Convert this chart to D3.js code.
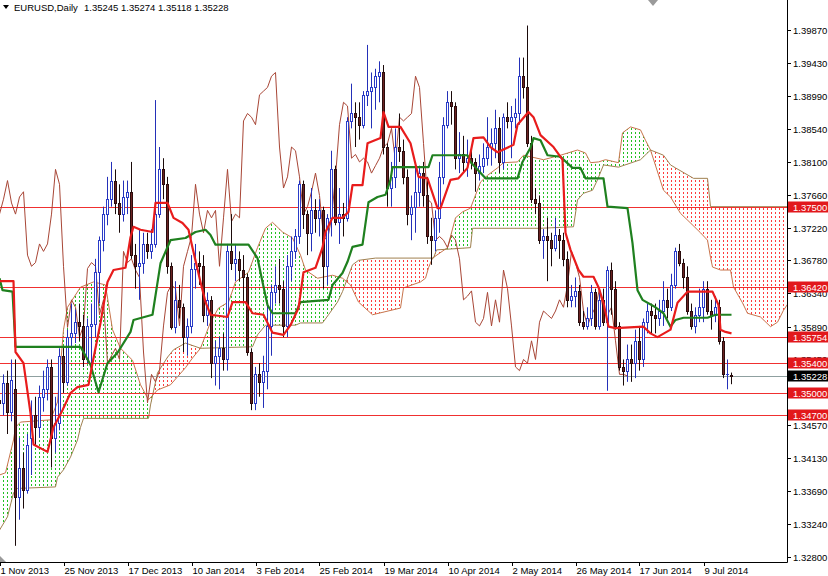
<!DOCTYPE html>
<html><head><meta charset="utf-8">
<script src="https://cdn.jsdelivr.net/npm/d3@7"></script>
<style>
body{margin:0;background:#fff}
svg{display:block}
text{font-family:"Liberation Sans",Arial,sans-serif}
</style>
</head><body><svg id="c" width="828" height="576"></svg>
<script>
// ---------- DATA ----------
const symbolTitle = "EURUSD,Daily";
const titleValues = "1.35245 1.35274 1.35118 1.35228";
const xTickIdx = [0,16,32,48,64,80,96,112,128,144,160,176];
const xTickLabels = ["1 Nov 2013","25 Nov 2013","17 Dec 2013","10 Jan 2014","3 Feb 2014","25 Feb 2014","19 Mar 2014","10 Apr 2014","2 May 2014","26 May 2014","17 Jun 2014","9 Jul 2014"];
const yTicks = [1.39870,1.39430,1.38990,1.38540,1.38100,1.37660,1.37220,1.36780,1.36340,1.35890,1.35450,1.35010,1.34570,1.34130,1.33690,1.33240,1.32800];
const levels = [1.37500,1.36420,1.35754,1.35400,1.35000,1.34700];
const bid = 1.35228;

const open = [1.3490,1.3487,1.3513,1.3475,1.3505,1.3360,1.3400,1.3370,1.3440,1.3470,1.3455,1.3495,1.3505,1.3535,1.3440,1.3460,1.3550,1.3515,1.3575,1.3580,
1.3595,1.3590,1.3545,1.3590,1.3592,1.3663,1.3705,1.3740,1.3760,1.3785,1.3755,1.3740,1.3763,1.3770,1.3685,1.3670,1.3675,1.3700,1.3690,1.3700,
1.3740,1.3800,1.3780,1.3670,1.3588,1.3625,1.3615,1.3575,1.3590,1.3667,1.3675,1.3670,1.3605,1.3625,1.3540,1.3550,1.3560,1.3545,1.3690,1.3675,
1.3680,1.3665,1.3655,1.3555,1.3487,1.3525,1.3515,1.3530,1.3590,1.3635,1.3645,1.3640,1.3590,1.3670,1.3690,1.3710,1.3780,1.3740,1.3715,1.3745,
1.3735,1.3745,1.3670,1.3735,1.3800,1.3730,1.3740,1.3735,1.3865,1.3875,1.3870,1.3860,1.3900,1.3905,1.3910,1.3925,1.3930,1.3830,1.3775,1.3790,
1.3830,1.3825,1.3790,1.3740,1.3750,1.3770,1.3795,1.3765,1.3710,1.3705,1.3735,1.3790,1.3860,1.3890,1.3885,1.3815,1.3820,1.3810,1.3815,1.3810,
1.3795,1.3805,1.3815,1.3830,1.3835,1.3855,1.3810,1.3870,1.3865,1.3870,1.3875,1.3925,1.3910,1.3835,1.3760,1.3755,1.3705,1.3710,1.3705,1.3695,
1.3712,1.3705,1.3680,1.3625,1.3630,1.3637,1.3595,1.3590,1.3600,1.3635,1.3590,1.3625,1.3595,1.3665,1.3640,1.3590,1.3535,1.3530,1.3545,1.3540,
1.3570,1.3545,1.3595,1.3610,1.3605,1.3600,1.3610,1.3625,1.3615,1.3645,1.3690,1.3675,1.3655,1.3610,1.3590,1.3605,1.3615,1.3640,1.3610,1.3605,
1.3615,1.3570,1.3525,1.35245];
const high = [1.3505,1.3525,1.3530,1.3545,1.3545,1.3440,1.3420,1.3445,1.3490,1.3495,1.3510,1.3530,1.3545,1.3545,1.3495,1.3560,1.3560,1.3585,1.3620,1.3612,
1.3620,1.3605,1.3600,1.3620,1.3680,1.3710,1.3750,1.3790,1.3810,1.3800,1.3780,1.3785,1.3785,1.3810,1.3700,1.3720,1.3715,1.3715,1.3720,1.3893,
1.3830,1.3815,1.3790,1.3675,1.3650,1.3645,1.3620,1.3600,1.3685,1.3700,1.3690,1.3685,1.3635,1.3630,1.3570,1.3575,1.3580,1.3700,1.3740,1.3700,
1.3690,1.3685,1.3660,1.3560,1.3535,1.3540,1.3550,1.3620,1.3645,1.3670,1.3680,1.3650,1.3685,1.3710,1.3720,1.3785,1.3785,1.3745,1.3775,1.3760,
1.3760,1.3750,1.3740,1.3825,1.3805,1.3775,1.3755,1.3870,1.3915,1.3890,1.3890,1.3905,1.3967,1.3930,1.3935,1.3945,1.3940,1.3835,1.3810,1.3855,
1.3875,1.3840,1.3800,1.3765,1.3810,1.3805,1.3810,1.3790,1.3735,1.3745,1.3810,1.3870,1.3905,1.3905,1.3890,1.3850,1.3845,1.3840,1.3825,1.3815,
1.3820,1.3835,1.3870,1.3855,1.3880,1.3870,1.3875,1.3890,1.3885,1.3895,1.3950,1.3950,1.3993,1.3845,1.3775,1.3765,1.3720,1.3735,1.3715,1.3735,
1.3720,1.3715,1.3690,1.3645,1.3655,1.3645,1.3610,1.3615,1.3645,1.3640,1.3635,1.3640,1.3670,1.3675,1.3650,1.3595,1.3545,1.3565,1.3565,1.3585,
1.3590,1.3600,1.3620,1.3620,1.3620,1.3625,1.3650,1.3640,1.3660,1.3695,1.3700,1.3680,1.3670,1.3620,1.3615,1.3640,1.3650,1.3650,1.3625,1.3630,
1.3625,1.3575,1.3545,1.35274];
const low = [1.3476,1.3470,1.3445,1.3462,1.3295,1.3330,1.3345,1.3365,1.3390,1.3430,1.3440,1.3475,1.3490,1.3400,1.3420,1.3450,1.3500,1.3510,1.3560,1.3567,
1.3570,1.3535,1.3540,1.3540,1.3575,1.3620,1.3690,1.3725,1.3750,1.3740,1.3715,1.3730,1.3740,1.3680,1.3640,1.3625,1.3660,1.3680,1.3680,1.3695,
1.3735,1.3760,1.3660,1.3585,1.3580,1.3600,1.3555,1.3550,1.3580,1.3640,1.3645,1.3595,1.3590,1.3520,1.3510,1.3505,1.3530,1.3530,1.3665,1.3650,
1.3650,1.3620,1.3550,1.3477,1.3477,1.3495,1.3480,1.3505,1.3550,1.3620,1.3620,1.3575,1.3575,1.3650,1.3680,1.3700,1.3720,1.3685,1.3690,1.3715,
1.3710,1.3640,1.3645,1.3710,1.3725,1.3700,1.3710,1.3730,1.3855,1.3830,1.3840,1.3855,1.3885,1.3855,1.3880,1.3890,1.3820,1.3750,1.3750,1.3775,
1.3810,1.3780,1.3725,1.3705,1.3715,1.3750,1.3750,1.3700,1.3672,1.3690,1.3715,1.3780,1.3855,1.3860,1.3800,1.3795,1.3795,1.3790,1.3800,1.3770,
1.3785,1.3795,1.3805,1.3805,1.3815,1.3795,1.3800,1.3855,1.3815,1.3855,1.3860,1.3895,1.3830,1.3755,1.3740,1.3700,1.3680,1.3650,1.3670,1.3690,
1.3680,1.3670,1.3615,1.3615,1.3615,1.3590,1.3585,1.3585,1.3590,1.3585,1.3585,1.3590,1.3503,1.3605,1.3585,1.3530,1.3510,1.3515,1.3515,1.3520,
1.3530,1.3535,1.3580,1.3580,1.3580,1.3590,1.3590,1.3600,1.3610,1.3640,1.3670,1.3640,1.3605,1.3585,1.3580,1.3595,1.3595,1.3605,1.3585,1.3595,
1.3565,1.3520,1.3505,1.35118];
const close = [1.3487,1.3513,1.3475,1.3518,1.3360,1.3400,1.3370,1.3430,1.3470,1.3455,1.3495,1.3505,1.3535,1.3440,1.3460,1.3550,1.3515,1.3575,1.3580,1.3595,
1.3590,1.3545,1.3590,1.3592,1.3663,1.3705,1.3740,1.3760,1.3785,1.3755,1.3740,1.3763,1.3770,1.3685,1.3670,1.3675,1.3700,1.3690,1.3700,1.3740,
1.3800,1.3780,1.3670,1.3588,1.3625,1.3615,1.3575,1.3590,1.3667,1.3675,1.3670,1.3605,1.3625,1.3540,1.3550,1.3560,1.3545,1.3690,1.3675,1.3680,
1.3665,1.3655,1.3555,1.3487,1.3525,1.3515,1.3530,1.3590,1.3635,1.3645,1.3640,1.3590,1.3670,1.3690,1.3710,1.3780,1.3740,1.3715,1.3745,1.3735,
1.3745,1.3670,1.3735,1.3800,1.3730,1.3740,1.3735,1.3865,1.3875,1.3870,1.3860,1.3900,1.3905,1.3910,1.3925,1.3930,1.3830,1.3775,1.3790,1.3830,
1.3825,1.3790,1.3740,1.3750,1.3770,1.3795,1.3765,1.3710,1.3705,1.3735,1.3790,1.3860,1.3890,1.3885,1.3815,1.3820,1.3810,1.3815,1.3810,1.3795,
1.3805,1.3815,1.3830,1.3835,1.3855,1.3810,1.3870,1.3865,1.3870,1.3875,1.3925,1.3910,1.3835,1.3760,1.3755,1.3705,1.3710,1.3705,1.3695,1.3712,
1.3705,1.3680,1.3625,1.3630,1.3637,1.3595,1.3590,1.3600,1.3635,1.3590,1.3625,1.3595,1.3665,1.3640,1.3590,1.3535,1.3530,1.3545,1.3540,1.3570,
1.3545,1.3595,1.3610,1.3605,1.3600,1.3610,1.3625,1.3615,1.3645,1.3690,1.3675,1.3655,1.3610,1.3590,1.3605,1.3615,1.3640,1.3610,1.3605,1.3615,
1.3570,1.3525,1.3525,1.35228];

// Ichimoku lines: [bar index, price]
const tenkan = [[0,1.3650],[3.5,1.3650],[4,1.3555],[6,1.3540],[7.75,1.3473],[8.5,1.3431],[12,1.3421],[13.5,1.3454],[15.75,1.3477],[17.75,1.3500],[19.5,1.3508],[22.25,1.3511],[23.25,1.3540],[25.25,1.3594],[27,1.3649],[28.5,1.3665],[31.5,1.3668],[32.75,1.3709],[33.5,1.3723],[35.25,1.3719],[38.25,1.3716],[39,1.3755],[42,1.3755],[43.5,1.3735],[45.75,1.3728],[47.25,1.3719],[48.25,1.3695],[50.25,1.3649],[51.5,1.3622],[52.75,1.3605],[57,1.3602],[58.25,1.3622],[61.5,1.3622],[63.25,1.3607],[66,1.3605],[68.25,1.3581],[71,1.3578],[72.75,1.3591],[74.75,1.3614],[76,1.3662],[79,1.3668],[80.75,1.3695],[81.5,1.3716],[83.25,1.3735],[85.75,1.3735],[87.25,1.3743],[88.25,1.3779],[90.75,1.3779],[92,1.3835],[95.25,1.3842],[96,1.3877],[97.25,1.3857],[100.25,1.3857],[102.75,1.3835],[104.75,1.3790],[107,1.3788],[109.5,1.3748],[110.25,1.3748],[112.75,1.3786],[114.75,1.3788],[117,1.3802],[118.5,1.3842],[121,1.3843],[122.75,1.3830],[124.5,1.3823],[128.5,1.3833],[129.5,1.3860],[132.25,1.3877],[133.5,1.3870],[135.25,1.3846],[138.5,1.3830],[140.75,1.3813],[141.5,1.3715],[142.75,1.3692],[144.75,1.3665],[146,1.3656],[148.5,1.3656],[149.75,1.3642],[151,1.3621],[152.25,1.3589],[154,1.3587],[161,1.3589],[162.75,1.3580],[164.5,1.3575],[167.75,1.3585],[169.5,1.3621],[172,1.3636],[178.25,1.3636],[179.75,1.3618],[180.25,1.3585],[181.5,1.3582],[183,1.3580]];
const kijun = [[0,1.3654],[0.75,1.3638],[3.25,1.3636],[4,1.3562],[20.25,1.3562],[22.75,1.3538],[24.75,1.3501],[27,1.3540],[29.5,1.3554],[32.75,1.3582],[33.5,1.3598],[38.25,1.3605],[39.5,1.3648],[40.25,1.3674],[42.75,1.3705],[46.5,1.3708],[49,1.3716],[51.5,1.3719],[52.75,1.3712],[54,1.3699],[62.25,1.3699],[64.5,1.3681],[65.75,1.3649],[67,1.3618],[68.25,1.3607],[74,1.3607],[75.25,1.3622],[82.25,1.3625],[83.25,1.3645],[85.75,1.3661],[87,1.3676],[88.25,1.3696],[90.75,1.3699],[92.25,1.3756],[94.5,1.3763],[96.5,1.3766],[97.75,1.3786],[98.25,1.3803],[107.25,1.3803],[108.25,1.3819],[117,1.3819],[117.75,1.3810],[121.5,1.3788],[129.5,1.3788],[130.75,1.3810],[132.75,1.3829],[133.5,1.3842],[135.25,1.3839],[137,1.3819],[140.25,1.3817],[143.25,1.3802],[145.25,1.3802],[146.5,1.3788],[151,1.3788],[152,1.3750],[157,1.3748],[158.25,1.3701],[159.5,1.3638],[160.75,1.3625],[164,1.3615],[166,1.3607],[167.75,1.3589],[169,1.3598],[171,1.3601],[177,1.3601],[179,1.3605],[183,1.3605]];
const spanA = [[0,1.3390],[1.5,1.3393],[3.5,1.3437],[4,1.3454],[5.25,1.3461],[12.75,1.3464],[14.5,1.3488],[16,1.3585],[17,1.3615],[20.25,1.3642],[23.5,1.3649],[26.5,1.3645],[28.25,1.3585],[30.25,1.3560],[33.25,1.3544],[35.25,1.3511],[37.25,1.3491],[39.5,1.3504],[42.75,1.3511],[46.5,1.3534],[48.25,1.3547],[50.25,1.3560],[52.75,1.3595],[54.75,1.3614],[57.25,1.3622],[59,1.3649],[62.25,1.3662],[64.5,1.3695],[66.5,1.3721],[68.25,1.3729],[70.75,1.3716],[73.25,1.3708],[75.25,1.3685],[76.5,1.3665],[79.5,1.3654],[83.25,1.3658],[85.75,1.3654],[87.75,1.3645],[89.75,1.3622],[93.25,1.3605],[100.25,1.3614],[101,1.3641],[105.25,1.3649],[106.5,1.3654],[107.25,1.3668],[108.25,1.3681],[112,1.3695],[114,1.3735],[115.75,1.3743],[117.75,1.3748],[120.25,1.3783],[122,1.3792],[124.5,1.3802],[126,1.3809],[129.5,1.3810],[131,1.3819],[136,1.3813],[140.25,1.3819],[144.5,1.3826],[146.5,1.3822],[147.75,1.3809],[149.75,1.3810],[151.5,1.3813],[154.75,1.3809],[155.75,1.3849],[157.75,1.3857],[160.25,1.3853],[161.5,1.3839],[162.75,1.3826],[166,1.3772],[167.75,1.3763],[170.25,1.3741],[172,1.3732],[175.25,1.3715],[177,1.3705],[177.75,1.3682],[178.25,1.3669],[180.25,1.3665],[182.75,1.3665],[183.5,1.3642],[185.75,1.3621],[187,1.3607],[190.25,1.3602],[192.75,1.3589],[194.5,1.3595],[196,1.3611],[197.75,1.3625]];
const spanB = [[0,1.3316],[2,1.3334],[3.5,1.3366],[4.5,1.3372],[14,1.3374],[14.5,1.3387],[16,1.3397],[17.75,1.3414],[19.5,1.3437],[20.25,1.3454],[21,1.3466],[37.25,1.3466],[37.75,1.3484],[39.5,1.3527],[42,1.3548],[43.5,1.3558],[46.5,1.3567],[50.25,1.3560],[63.25,1.3562],[64.5,1.3578],[66.5,1.3591],[74,1.3591],[75.25,1.3594],[80.75,1.3594],[82.25,1.3605],[84.5,1.3622],[85.75,1.3636],[88.25,1.3672],[89.75,1.3678],[94,1.3681],[108.5,1.3681],[109.25,1.3692],[117.75,1.3695],[118.25,1.3721],[135.25,1.3721],[143.5,1.3723],[144.5,1.3759],[146,1.3768],[148.25,1.3772],[149.5,1.3786],[151,1.3806],[154.75,1.3803],[160.25,1.3813],[162.75,1.3826],[166,1.3819],[167.75,1.3806],[169,1.3802],[173.5,1.3788],[177,1.3788],[177.75,1.3750],[197.75,1.3750]];
const chikouShift = 26;

// ---------- DRAW ----------
const plotR = 787, plotB = 562;
const svg = d3.select("#c");
const x = d3.scaleLinear().domain([0,183]).range([-0.5,731.5]);
const y = d3.scaleLinear().domain([1.32800,1.39870]).range([557,30]);
const defs = svg.append("defs");
defs.append("clipPath").attr("id","plot").append("rect").attr("x",0).attr("y",0).attr("width",plotR).attr("height",plotB);

function pattern(id,color){
  const p = defs.append("pattern").attr("id",id).attr("patternUnits","userSpaceOnUse")
    .attr("width",4).attr("height",4).attr("x",x(0)-0.5).attr("y",0);
  p.append("rect").attr("x",0).attr("y",0).attr("width",1).attr("height",2).attr("fill",color);
}
pattern("gDots","#22c022");
pattern("rDots","#ff3c3c");

const below = d3.area().x(d=>x(d[0])).y0(700).y1(d=>y(d[1]));
const above = d3.area().x(d=>x(d[0])).y0(-100).y1(d=>y(d[1]));
defs.append("clipPath").attr("id","belowA").append("path").attr("d",below(spanA));
defs.append("clipPath").attr("id","aboveA").append("path").attr("d",above(spanA));
defs.append("clipPath").attr("id","belowB").append("path").attr("d",below(spanB));
defs.append("clipPath").attr("id","aboveB").append("path").attr("d",above(spanB));

const plot = svg.append("g").attr("clip-path","url(#plot)");

// cloud: green where A above B, red where B above A
plot.append("g").attr("clip-path","url(#belowA)")
  .append("rect").attr("clip-path","url(#aboveB)")
  .attr("x",0).attr("y",0).attr("width",plotR).attr("height",plotB).attr("fill","url(#gDots)");
plot.append("g").attr("clip-path","url(#belowB)")
  .append("rect").attr("clip-path","url(#aboveA)")
  .attr("x",0).attr("y",0).attr("width",plotR).attr("height",plotB).attr("fill","url(#rDots)");

const line = d3.line().x(d=>x(d[0])).y(d=>y(d[1]));
plot.append("path").attr("d",line(spanA)).attr("fill","none").attr("stroke","#c8744c").attr("stroke-width",1);
plot.append("path").attr("d",line(spanB)).attr("fill","none").attr("stroke","#a08050").attr("stroke-width",1);

// horizontal levels
levels.forEach(v=>{
  plot.append("line").attr("x1",0).attr("x2",plotR).attr("y1",Math.round(y(v))+0.5).attr("y2",Math.round(y(v))+0.5)
    .attr("stroke","#f03030").attr("stroke-width",1);
});
plot.append("line").attr("x1",0).attr("x2",plotR).attr("y1",Math.round(y(bid))+0.5).attr("y2",Math.round(y(bid))+0.5)
  .attr("stroke","#8fa0a0").attr("stroke-width",1);

// chikou span (closes shifted back)
const chikou = close.map((c,i)=>[i-chikouShift,c]).filter(d=>d[0]>=-1);
plot.append("path").attr("d",line(chikou)).attr("fill","none").attr("stroke","#a84636").attr("stroke-width",1);

// candles
const idx = d3.range(close.length);
const cg = plot.append("g");
idx.forEach(i=>{
  const bull = close[i] >= open[i];
  const cx = Math.round(x(i)-0.5)+0.5;
  cg.append("line").attr("x1",cx).attr("x2",cx).attr("y1",y(high[i])).attr("y2",y(low[i]))
    .attr("stroke", bull ? "#2430b8" : "#1a0a0a").attr("stroke-width",1);
  const yt = Math.round(y(Math.max(open[i],close[i])))+0.5;
  const yb = Math.round(y(Math.min(open[i],close[i])))+0.5;
  cg.append("rect").attr("x",cx-1).attr("y",yt).attr("width",2).attr("height",Math.max(0.01,yb-yt))
    .attr("fill", bull ? "#ffffff" : "#6b2222")
    .attr("stroke", bull ? "#2a3cc8" : "#2a0c0c").attr("stroke-width",1);
});

// tenkan & kijun
plot.append("path").attr("d",line(kijun)).attr("fill","none").attr("stroke","#1f801f").attr("stroke-width",2.2).attr("stroke-linejoin","round");
plot.append("path").attr("d",line(tenkan)).attr("fill","none").attr("stroke","#e81c1c").attr("stroke-width",2.2).attr("stroke-linejoin","round");

// frame
svg.append("line").attr("x1",plotR+0.5).attr("x2",plotR+0.5).attr("y1",0).attr("y2",plotB+0.5).attr("stroke","#000");
svg.append("line").attr("x1",0).attr("x2",plotR+0.5).attr("y1",plotB+0.5).attr("y2",plotB+0.5).attr("stroke","#000");

// y ticks
yTicks.forEach(v=>{
  const yy = Math.round(y(v))+0.5;
  svg.append("line").attr("x1",plotR).attr("x2",plotR+4).attr("y1",yy).attr("y2",yy).attr("stroke","#000");
  svg.append("text").attr("x",793).attr("y",yy+3.5).attr("font-size",9.5).attr("fill","#000").text(v.toFixed(5));
});
// level boxes
function box(v,bg){
  const yy = Math.round(y(v));
  svg.append("rect").attr("x",788).attr("y",yy-5.5).attr("width",40).attr("height",11).attr("fill",bg);
  svg.append("text").attr("x",793).attr("y",yy+4).attr("font-size",9.5).attr("fill","#fff").text(v.toFixed(5));
}
levels.forEach(v=>box(v,"#e2181c"));
box(bid,"#000");

// x ticks
xTickIdx.forEach((t,k)=>{
  const xx = Math.round(x(t))+0.5;
  svg.append("line").attr("x1",xx).attr("x2",xx).attr("y1",plotB).attr("y2",plotB+4).attr("stroke","#000");
  svg.append("text").attr("x",xx).attr("y",574).attr("font-size",9.5).attr("fill","#000").text(xTickLabels[k]);
});

// title
svg.append("path").attr("d","M3,5 L9,5 L6,9 Z").attr("fill","#000");
svg.append("text").attr("x",14).attr("y",11).attr("font-size",9.5).attr("fill","#000").text(symbolTitle);
svg.append("text").attr("x",84).attr("y",11).attr("font-size",9.5).attr("fill","#000").text(titleValues);
// chart shift marker & corner marker
svg.append("path").attr("d","M648,0 L658,0 L653,6 Z").attr("fill","#9a9a9a");
svg.append("path").attr("d","M0,556 L0,562 L6,562 Z").attr("fill","#9a9a9a");
</script>
</body></html>
